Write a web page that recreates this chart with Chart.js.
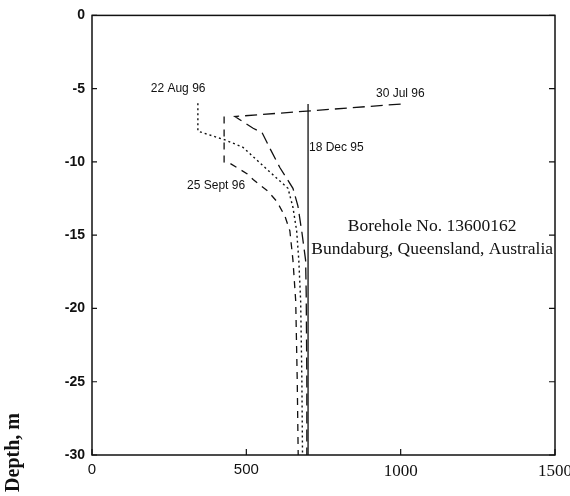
<!DOCTYPE html>
<html>
<head>
<meta charset="utf-8">
<script src="https://cdn.jsdelivr.net/npm/chart.js@4.4.1/dist/chart.umd.min.js"></script>
<style>
  body { margin: 0; background: #fff; }
  #wrap { width: 570px; height: 496px; }
</style>
</head>
<body>
<div id="wrap"><canvas id="profileChart"></canvas></div>
<script>
// Borehole 13600162 profiles
const xTicks = [0, 500, 1000, 1500];
const yTicks = [0, -5, -10, -15, -20, -25, -30];

// 18 Dec 95 (solid)
const dec95X = [700, 700];
const dec95Y = [-6.05, -30];

// 30 Jul 96 (long dash)
const jul96X = [1000, 463, 522, 551, 577, 609, 651, 667, 680, 692, 694, 696, 696];
const jul96Y = [-6.05, -6.9, -7.7, -8.0, -9.1, -10.4, -11.8, -13.0, -14.8, -16.7, -19.0, -25.0, -30.0];

// 22 Aug 96 (dotted)
const aug96X = [343, 343, 431, 489, 577, 635, 651, 663, 670, 676, 680, 682];
const aug96Y = [-6.0, -7.9, -8.5, -9.0, -10.7, -11.8, -13.1, -14.7, -16.7, -19.5, -25.0, -30.0];

// 25 Sept 96 (short dash)
const sep96X = [428, 428, 447, 502, 522, 570, 599, 625, 641, 651, 660, 665, 668];
const sep96Y = [-6.9, -10.0, -10.1, -10.8, -11.2, -12.0, -12.7, -13.7, -14.7, -16.7, -19.5, -25.0, -30.0];

const labels = [
  { text: "22 Aug 96", x: 279, y: -4.97, align: "center" },
  { text: "30 Jul 96", x: 920, y: -5.37, align: "left" },
  { text: "18 Dec 95", x: 703, y: -9.05, align: "left" },
  { text: "25 Sept 96", x: 402, y: -11.63, align: "center" }
];
const noteLines = ["Borehole No. 13600162", "Bundaburg, Queensland, Australia"];
const noteX = 1102;
const noteY = [-14.4, -16.0];

function pts(xs, ys) {
  return xs.map((x, i) => ({ x: x, y: ys[i] }));
}

function line(data, dash, width) {
  return {
    data: data,
    showLine: true,
    borderColor: "#111",
    borderWidth: width,
    borderDash: dash,
    pointRadius: 0,
    tension: 0,
    fill: false
  };
}

const frame = {
  id: "frame",
  afterDraw(chart) {
    const ctx = chart.ctx;
    const a = chart.chartArea;
    const sx = chart.scales.x, sy = chart.scales.y;
    ctx.save();
    ctx.strokeStyle = "#111";
    ctx.lineWidth = 1.5;
    ctx.strokeRect(a.left, a.top, a.right - a.left, a.bottom - a.top);

    // inward tick marks
    ctx.lineWidth = 1.2;
    ctx.beginPath();
    yTicks.forEach(v => {
      const p = sy.getPixelForValue(v);
      ctx.moveTo(a.left, p); ctx.lineTo(a.left + 5, p);
      ctx.moveTo(a.right, p); ctx.lineTo(a.right - 6, p);
    });
    xTicks.forEach(v => {
      const p = sx.getPixelForValue(v);
      ctx.moveTo(p, a.bottom); ctx.lineTo(p, a.bottom - 6);
    });
    ctx.stroke();

    // curve labels
    ctx.fillStyle = "#111";
    ctx.textBaseline = "middle";
    ctx.font = "12px 'Liberation Sans Narrow', 'Arial Narrow', sans-serif";
    labels.forEach(l => {
      ctx.textAlign = l.align;
      ctx.fillText(l.text, sx.getPixelForValue(l.x), sy.getPixelForValue(l.y));
    });

    ctx.font = "17.5px 'Liberation Serif', serif";
    ctx.textAlign = "center";
    noteLines.forEach((t, i) => {
      ctx.fillText(t, sx.getPixelForValue(noteX), sy.getPixelForValue(noteY[i]));
    });

    // y axis title, partly off the bottom like the scan
    ctx.translate(14, 413);
    ctx.rotate(-Math.PI / 2);
    ctx.textAlign = "right";
    ctx.font = "bold 20px 'Liberation Serif', serif";
    ctx.fillText("Depth, m", 0, 0);
    ctx.restore();
  }
};

new Chart(document.getElementById("profileChart"), {
  type: "scatter",
  data: {
    datasets: [
      line(pts(dec95X, dec95Y), [], 1.3),
      line(pts(jul96X, jul96Y), [12, 6], 1.3),
      line(pts(aug96X, aug96Y), [2, 3], 1.4),
      line(pts(sep96X, sep96Y), [7, 6], 1.3)
    ]
  },
  options: {
    responsive: true,
    maintainAspectRatio: false,
    animation: false,
    layout: { padding: { left: 0, right: 15, top: 14, bottom: 0 } },
    plugins: { legend: { display: false }, tooltip: { enabled: false } },
    scales: {
      x: {
        type: "linear",
        min: 0,
        max: 1500,
        grid: { display: false, drawTicks: false },
        border: { display: false },
        afterFit: s => { s.height = 41; s.paddingRight = 15; s.paddingLeft = 0; },
        afterBuildTicks: s => { s.ticks = xTicks.map(v => ({ value: v })); },
        ticks: {
          color: "#111",
          padding: 6,
          maxRotation: 0,
          callback: v => String(v),
          font: c => (c.tick && c.tick.value >= 1000)
            ? { family: "'Liberation Serif', serif", size: 17 }
            : { family: "'Liberation Sans', sans-serif", size: 15 }
        }
      },
      y: {
        type: "linear",
        min: -30,
        max: 0,
        grid: { display: false, drawTicks: false },
        border: { display: false },
        afterFit: s => { s.width = 92; },
        afterBuildTicks: s => { s.ticks = yTicks.map(v => ({ value: v })); },
        ticks: {
          color: "#111",
          padding: 7,
          callback: v => String(v),
          font: { family: "'Liberation Sans', sans-serif", size: 14, weight: "bold" }
        }
      }
    }
  },
  plugins: [frame]
});
</script>
</body>
</html>
